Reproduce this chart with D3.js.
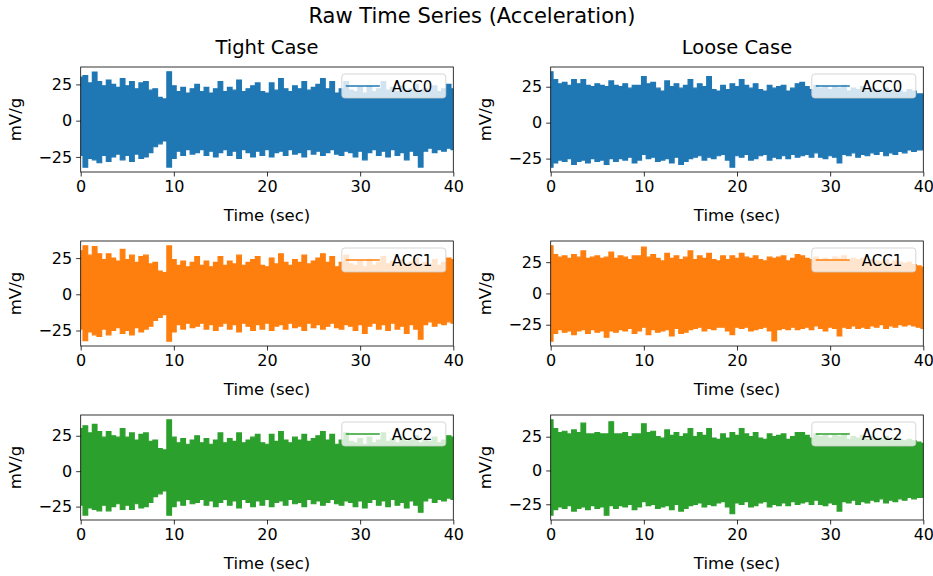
<!DOCTYPE html>
<html>
<head>
<meta charset="utf-8">
<script src="https://cdn.jsdelivr.net/npm/d3@7"></script>
<style>
  body { margin: 0; background: #fff; }
  text { font-family: "DejaVu Sans", sans-serif; fill: #000; }
</style>
</head>
<body>
<svg id="fig" width="933" height="576"></svg>
<script>
// sample times (sec) of the envelope readings
var sampleTimes = [0,0.5,1,1.5,2,2.5,3,3.5,4,4.5,5,5.5,6,6.5,7,7.5,8,8.5,9,9.5,
  10,10.5,11,11.5,12,12.5,13,13.5,14,14.5,15,15.5,16,16.5,17,17.5,18,18.5,19,19.5,
  20,20.5,21,21.5,22,22.5,23,23.5,24,24.5,25,25.5,26,26.5,27,27.5,28,28.5,29,29.5,
  30,30.5,31,31.5,32,32.5,33,33.5,34,34.5,35,35.5,36,36.5,37,37.5,38,38.5,39,39.5,40];

// upper / lower envelopes of each signal (mV/g)
var tightAcc0Upper = [30,31,26,33.5,27,24,28,25,23,29, 24,27,22,26,27,21,22,16,15,33.7,
  24,20,23,19,22,25,20,23,19,22, 27,20,23,21,28,20,22,24,26,20, 19,26,21,29,22,20,24,22,27,21,
  23,25,29,22,27,19,22,27,21,20, 23,19,24,20,22,27,21,23,20,24, 21,22,25,20,22,21,24,20,22,25, 22];
var tightAcc0Lower = [-24,-32.1,-26,-27,-29,-24,-28,-25,-23,-27, -24,-28,-23,-26,-25,-22,-18,-16,-14,-32,
  -26,-21,-24,-20,-23,-22,-20,-24,-21,-25, -22,-20,-24,-21,-26,-20,-22,-25,-21,-24, -20,-25,-22,-21,-24,-20,-23,-22,-25,-20,
  -23,-21,-24,-22,-20,-23,-24,-21,-22,-25, -21,-27,-22,-20,-24,-21,-25,-20,-24,-22, -27,-21,-24,-32,-21,-19,-22,-20,-21,-19, -20];

var tightAcc1Upper = [30,33.5,27,33,28,24,28,25,23,31, 24,27,22,26,27,21,22,16,15,33.4,
  24,20,23,19,22,26,20,23,19,22, 26,20,23,21,27,20,22,24,26,20, 19,25,21,28,22,20,24,22,27,21,
  23,25,28,22,26,19,22,27,21,20, 23,19,24,20,22,26,21,23,20,24, 21,22,25,20,22,21,24,20,22,25, 24];
var tightAcc1Lower = [-24,-32,-26,-28,-29,-24,-28,-25,-23,-27, -25,-28,-23,-26,-24,-22,-18,-16,-14,-32.4,
  -26,-21,-24,-20,-23,-22,-20,-24,-21,-25, -22,-20,-24,-21,-26,-20,-22,-25,-21,-24, -20,-25,-22,-21,-24,-20,-23,-22,-25,-20,
  -23,-21,-24,-22,-20,-23,-24,-21,-22,-25, -21,-27,-22,-20,-24,-21,-25,-20,-24,-22, -27,-21,-24,-31,-21,-19,-22,-20,-21,-19, -20];

var tightAcc2Upper = [30,32,27,33,28,24,28,25,24,30, 24,27,22,26,27,21,22,16,15,36.3,
  24,20,23,19,22,25,20,23,19,22, 27,20,23,21,27,20,22,24,26,20, 19,26,21,28,22,20,24,22,26,21,
  23,25,28,22,26,19,22,27,21,20, 23,19,24,20,22,27,21,23,20,24, 21,22,25,20,22,21,24,20,22,25, 24];
var tightAcc2Lower = [-24,-31,-26,-27,-28,-24,-28,-25,-23,-27, -24,-27,-23,-26,-25,-22,-18,-16,-14,-31.1,
  -25,-21,-24,-20,-23,-22,-20,-24,-21,-25, -22,-20,-24,-21,-26,-20,-22,-25,-21,-24, -20,-25,-22,-21,-24,-20,-23,-22,-25,-20,
  -23,-21,-24,-22,-20,-23,-24,-21,-22,-25, -21,-26,-22,-20,-24,-21,-25,-20,-24,-22, -26,-21,-24,-29,-21,-19,-22,-20,-21,-19, -20];

var looseAcc0Upper = [35.4,30,27,28,26,30,27,30,26,25, 27,26,25,29,26,25,27,24,26,26,
  32,27,28,24,22,29,25,27,24,26, 30,24,27,25,32,23,22,26,23,27, 25,30,26,24,27,23,22,26,24,25,
  26,22,24,27,28,25,23,26,24,25, 23,25,24,26,22,24,23,25,22,24, 23,22,24,21,23,22,21,23,22,20, 20];
var looseAcc0Lower = [-31,-28,-26,-27,-25,-29,-27,-26,-28,-25, -27,-26,-29,-25,-27,-25,-26,-24,-28,-26,
  -22,-25,-24,-27,-26,-25,-28,-24,-29,-27, -25,-24,-23,-26,-24,-25,-23,-22,-26,-31, -23,-24,-22,-26,-25,-23,-22,-26,-24,-25,
  -23,-25,-22,-24,-23,-22,-24,-21,-24,-25, -23,-24,-28,-22,-23,-21,-24,-22,-23,-21, -22,-20,-23,-21,-22,-20,-21,-19,-20,-19, -19];

var looseAcc1Upper = [38.1,31,29,30,28,31,29,34,28,29, 30,28,29,33,28,30,29,27,30,30,
  37,29,31,28,26,32,28,30,27,29, 34,27,30,28,32,27,26,30,27,30, 28,32,29,28,30,27,26,29,28,29,
  30,26,28,31,30,28,27,29,27,28, 27,29,28,30,26,28,27,28,25,27, 26,25,27,24,26,25,24,25,23,22, 21];
var looseAcc1Lower = [-38.2,-32,-29,-31,-30,-33,-30,-29,-32,-29, -31,-30,-35,-30,-31,-29,-30,-28,-32,-30,
  -27,-33,-29,-31,-30,-29,-34,-28,-32,-31, -29,-28,-27,-30,-28,-29,-27,-27,-30,-33, -27,-28,-27,-30,-29,-28,-27,-30,-38,-29,
  -28,-29,-27,-29,-28,-27,-29,-26,-28,-30, -27,-28,-34,-27,-28,-26,-28,-27,-28,-26, -27,-25,-28,-26,-27,-25,-26,-25,-26,-27, -28];

var looseAcc2Upper = [37.5,31,28,29,27,30,28,35,27,27, 28,27,27,36,27,27,28,25,27,27,
  34.5,28,29,25,24,30,26,28,25,27, 31,25,28,26,31,24,23,27,24,28, 26,31,27,25,28,24,23,27,25,26,
  27,23,25,28,28,26,24,27,25,26, 24,26,25,27,23,25,24,26,23,25, 24,23,25,22,24,23,22,23,22,21, 20];
var looseAcc2Lower = [-33,-29,-27,-28,-26,-30,-28,-27,-29,-26, -28,-27,-33.1,-26,-28,-26,-27,-25,-29,-27,
  -23,-26,-25,-28,-27,-26,-29,-25,-30,-28, -26,-25,-24,-27,-25,-26,-24,-23,-27,-32, -24,-25,-23,-27,-26,-24,-23,-27,-25,-26,
  -24,-26,-23,-25,-24,-23,-25,-22,-25,-26, -24,-25,-30,-23,-24,-22,-25,-23,-24,-22, -23,-21,-24,-22,-23,-21,-22,-20,-21,-20, -20];

var caseTitles = ["Tight Case", "Loose Case"];
var channelNames = ["ACC0", "ACC1", "ACC2"];
var channelColors = ["#1f77b4", "#ff7f0e", "#2ca02c"];
var xTicks = [0, 10, 20, 30, 40];
var yTicks = [-25, 0, 25];

var envelopes = [
  [[tightAcc0Upper, tightAcc0Lower], [tightAcc1Upper, tightAcc1Lower], [tightAcc2Upper, tightAcc2Lower]],
  [[looseAcc0Upper, looseAcc0Lower], [looseAcc1Upper, looseAcc1Lower], [looseAcc2Upper, looseAcc2Lower]]
];

// layout of the 3x2 grid
var colLeft = [80.7, 550.7], axW = 372.6;
var rowTop = [67, 241, 415], axH = 105;

var svg = d3.select("#fig");

svg.append("text")
  .attr("x", 472).attr("y", 23)
  .attr("text-anchor", "middle")
  .style("font-size", "21px")
  .text("Raw Time Series (Acceleration)");

caseTitles.forEach(function(title, c){
  channelNames.forEach(function(name, r){
    var upper = envelopes[c][r][0], lower = envelopes[c][r][1];
    var lo = d3.min(lower), hi = d3.max(upper), pad = (hi - lo) * 0.05;

    var x = d3.scaleLinear().domain([0, 40]).range([0, axW]);
    var y = d3.scaleLinear().domain([lo - pad, hi + pad]).range([axH, 0]);

    var g = svg.append("g")
      .attr("transform", "translate(" + colLeft[c] + "," + rowTop[r] + ")");

    var clipId = "clip" + c + r;
    g.append("clipPath").attr("id", clipId)
      .append("rect").attr("width", axW).attr("height", axH);

    var area = d3.area()
      .curve(d3.curveStep)
      .x(function(d, i){ return x(sampleTimes[i]); })
      .y0(function(d, i){ return y(lower[i]); })
      .y1(function(d, i){ return y(upper[i]); });

    g.append("path")
      .datum(upper)
      .attr("clip-path", "url(#" + clipId + ")")
      .attr("d", area)
      .attr("fill", channelColors[r])
      .attr("stroke", channelColors[r])
      .attr("stroke-width", 1.2);

    // axes
    var xAxis = g.append("g")
      .attr("transform", "translate(0," + axH + ")")
      .call(d3.axisBottom(x).tickValues(xTicks).tickSize(4.5).tickPadding(4).tickSizeOuter(0));
    var yAxis = g.append("g")
      .call(d3.axisLeft(y).tickValues(yTicks).tickSize(4.5).tickPadding(4).tickSizeOuter(0));
    [xAxis, yAxis].forEach(function(a){
      a.select(".domain").remove();
      a.selectAll("line").attr("stroke", "#000").attr("stroke-width", 0.8);
      a.selectAll("text").style("font-size", "16px").attr("fill", "#000")
        .style("font-family", "DejaVu Sans");
    });

    g.append("rect")
      .attr("width", axW).attr("height", axH)
      .attr("fill", "none").attr("stroke", "#000").attr("stroke-width", 0.8);

    g.append("text")
      .attr("x", axW / 2).attr("y", axH + 49)
      .attr("text-anchor", "middle")
      .style("font-size", "16.5px")
      .text("Time (sec)");

    g.append("text")
      .attr("transform", "translate(" + (-60) + "," + (axH / 2) + ") rotate(-90)")
      .attr("text-anchor", "middle")
      .style("font-size", "16.5px")
      .text("mV/g");

    if (r === 0) {
      g.append("text")
        .attr("x", axW / 2).attr("y", -13)
        .attr("text-anchor", "middle")
        .style("font-size", "19.5px")
        .text(title);
    }

    // legend
    var lg = g.append("g").attr("transform", "translate(" + (axW - 111.5) + ",7)");
    lg.append("rect")
      .attr("width", 104).attr("height", 24).attr("rx", 3)
      .attr("fill", "#fff").attr("fill-opacity", 0.8)
      .attr("stroke", "#ccc").attr("stroke-width", 0.8);
    lg.append("line")
      .attr("x1", 4).attr("x2", 38).attr("y1", 12).attr("y2", 12)
      .attr("stroke", channelColors[r]).attr("stroke-width", 1.5);
    lg.append("text")
      .attr("x", 50).attr("y", 18)
      .style("font-size", "15px")
      .text(name);
  });
});
</script>
</body>
</html>
